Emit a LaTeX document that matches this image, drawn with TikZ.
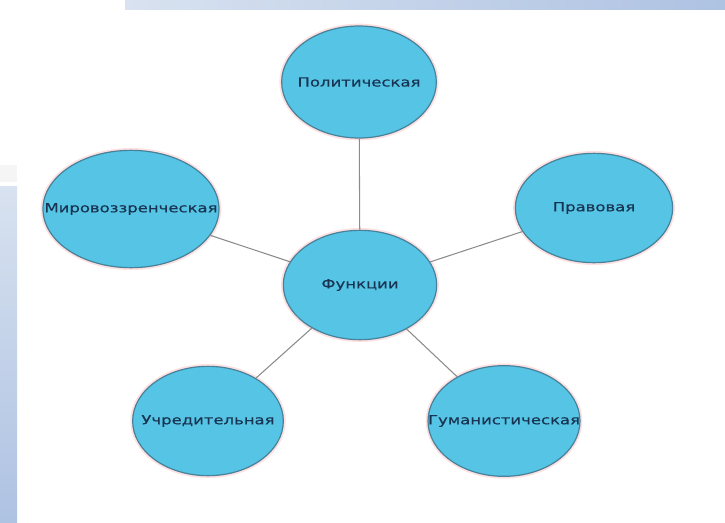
\documentclass[tikz,border=0pt]{standalone}
\usepackage{fontspec}
\newfontfamily\labelfont[FakeStretch=1.3, FakeBold=0.4]{DejaVu Sans}
\definecolor{bubblefill}{RGB}{86,196,228}
\definecolor{bubbleedge}{RGB}{70,130,155}
\definecolor{labeltext}{RGB}{24,52,82}
\definecolor{spoke}{RGB}{140,140,140}
\definecolor{barlight}{RGB}{216,226,240}
\definecolor{bardark}{RGB}{174,194,226}
\usetikzlibrary{shapes.geometric}
\newcommand{\bubbletext}[1]{\makebox[0pt]{#1}}

\begin{document}
\begin{tikzpicture}[
  x=0.75pt, y=-0.75pt,
  bubble/.style={ellipse, draw=bubbleedge, line width=0.9pt, fill=bubblefill,
                 inner sep=0pt, text=labeltext,
                 font=\labelfont\fontsize{9.5}{11}\selectfont,
                 preaction={draw=red!12, line width=3.5pt}},
  spokeline/.style={draw=spoke, line width=0.8pt},
]
\useasboundingbox (0,0) rectangle (725,522);

% slide decoration
\shade[left color=barlight, right color=bardark] (125,0) rectangle (725,9);
\fill[gray!8] (0,165) rectangle (17,182);
\shade[top color=barlight, bottom color=bardark] (0,186) rectangle (17,522);

% functions
\node[bubble, minimum width=115pt, minimum height=82pt] (hub) at (360,285) {\bubbletext{Функции}};
\node[bubble, minimum width=116pt, minimum height=84pt] (pol) at (359,82) {\bubbletext{Политическая}};
\node[bubble, minimum width=132pt, minimum height=88pt] (mir) at (131,209) {\bubbletext{Мировоззренческая}};
\node[bubble, minimum width=118pt, minimum height=82pt] (prav) at (594,208) {\bubbletext{Правовая}};
\node[bubble, minimum width=114pt, minimum height=83pt] (gum) at (504,421) {\bubbletext{Гуманистическая}};
\node[bubble, minimum width=113pt, minimum height=82pt] (uchr) at (208,421) {\bubbletext{Учредительная}};

\draw[spokeline] (hub) -- (pol);
\draw[spokeline] (hub) -- (mir);
\draw[spokeline] (hub) -- (prav);
\draw[spokeline] (hub) -- (gum);
\draw[spokeline] (hub) -- (uchr);
\end{tikzpicture}
\end{document}
